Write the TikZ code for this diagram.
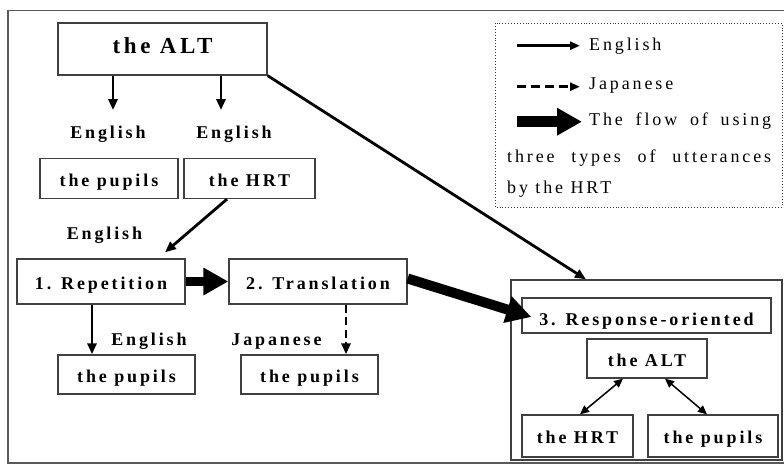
\documentclass[tikz,border=0pt]{standalone}
\usepackage{fontspec}
\setmainfont{Liberation Serif}[LetterSpace=16]
\usetikzlibrary{arrows.meta}

\begin{document}
\begin{tikzpicture}[x=1pt, y=-1pt,
    box/.style={rectangle, draw=black!75, line width=1.3pt, inner sep=0pt, text height=15pt, text depth=0pt, font=\fontsize{18}{20}\selectfont\bfseries},
    lbl/.style={inner sep=0pt, text height=12pt, text depth=0pt, font=\fontsize{18}{20}\selectfont\bfseries},
    leg/.style={inner sep=0pt, anchor=base west, font=\fontsize{18}{20}\selectfont},
    conn/.style={line width=2.8pt, -{Triangle[length=11pt, width=9pt]}},
    dashconn/.style={conn, dash pattern=on 8pt off 4.5pt},
    twoway/.style={line width=1.5pt, {Triangle[length=9pt, width=8pt]}-{Triangle[length=9pt, width=8pt]}},
    flow/.style={line width=9pt, -{Triangle[length=25pt, width=26pt]}}]
    \useasboundingbox (0,0) rectangle (784,469);
    \clip (0,0) rectangle (784,469);
    \draw[black!65, line width=1.6pt] (8,10.5) rectangle (800,463);

    % the HRT and the ALT at the top
    \node[box, minimum width=209pt, minimum height=52pt, text height=16pt, text depth=8pt, font=\fontsize{23}{26}\selectfont\bfseries] (alt) at (162.5,49) {the ALT};
    \node[lbl] (en1) at (108,132.3) {English};
    \node[lbl] (en2) at (234,132.3) {English};
    \node[box, minimum width=138pt, minimum height=40pt] (pupA) at (109,178.5) {the pupils};
    \node[box, minimum width=131pt, minimum height=40pt] (hrtA) at (249.5,178.5) {the HRT};
    \node[lbl] (en3) at (104.5,233) {English};

    % three types of utterances
    \node[box, minimum width=168pt, minimum height=45pt] (rep) at (101,281.5) {1. Repetition};
    \node[box, minimum width=178pt, minimum height=45pt] (trans) at (318,281.5) {2. Translation};
    \node[lbl] (en4) at (149,339.5) {English};
    \node[lbl] (ja) at (276.5,339.5) {Japanese};
    \node[box, minimum width=137pt, minimum height=39pt] (pupB) at (126.5,374.5) {the pupils};
    \node[box, minimum width=137pt, minimum height=39pt] (pupC) at (309.5,374.5) {the pupils};

    \node[box, minimum width=271pt, minimum height=180pt] (resp) at (646.5,370) {};
    \node[box, minimum width=249pt, minimum height=35pt, text height=20pt] (respT) at (646.5,315.5) {3. Response-oriented};
    \node[box, minimum width=120pt, minimum height=39pt] (altB) at (647,358.5) {the ALT};
    \node[box, minimum width=111pt, minimum height=42pt] (hrtB) at (577.5,436) {the HRT};
    \node[box, minimum width=130pt, minimum height=42pt] (pupD) at (713,436) {the pupils};

    \coordinate (a1) at ([xshift=5pt, yshift=16pt]en1.north);
    \coordinate (a2) at ([xshift=-13pt, yshift=16pt]en2.north);
    \draw[conn] (alt.south -| a1) -- (a1);
    \draw[conn] (alt.south -| a2) -- (a2);
    \draw[conn] ([xshift=-22.5pt]hrtA.south) -- ([xshift=64pt, yshift=6pt]rep.north);
    \draw[conn] (alt.south east) -- ([xshift=-60.5pt]resp.north);

    \draw[flow] (rep.east) -- (trans.west);
    \draw[flow, line width=10pt] ([yshift=3pt]trans.east) -- ([xshift=10pt, yshift=-1.5pt]respT.west);
    \draw[conn] ([xshift=-9pt]rep.south) -- ([xshift=-9pt]rep.south |- pupB.north);
    \draw[dashconn] ([xshift=28pt]trans.south) -- ([xshift=28pt]trans.south |- pupC.north);

    \draw[twoway] ([xshift=-24pt]altB.south) -- ([xshift=2.5pt]hrtB.north);
    \draw[twoway] ([xshift=18pt]altB.south) -- ([xshift=-6pt]pupD.north);

    % legend
    \draw[black!80, dotted, line width=0.9pt] (495,23) rectangle (782,207);
    \node[leg] (lt1) at (589,50.5) {English};
    \node[leg] (lt2) at (589,89) {Japanese};
    \node[leg] (lt3) at (589,125.5) {\makebox[182pt][s]{The flow of using}};
    \node[leg] (lt4) at (507,162.7) {\makebox[264pt][s]{three types of utterances}};
    \node[leg] (lt5) at (507,193.3) {by the HRT};
    \coordinate (ls1) at (517,45.7);
    \coordinate (ls2) at (517,86.7);
    \coordinate (ls3) at (517,121.7);
    \draw[line width=2.5pt, -{Triangle[length=10pt, width=8pt]}, shorten >=9pt] (ls1) -- (ls1 -| lt1.west);
    \draw[line width=2.5pt, dash pattern=on 9pt off 5pt, -{Triangle[length=10pt, width=8pt]}, shorten >=9pt] (ls2) -- (ls2 -| lt2.west);
    \draw[line width=11pt, -{Triangle[length=25pt, width=26pt]}, shorten >=7pt] (ls3) -- (ls3 -| lt3.west);
\end{tikzpicture}
\end{document}
